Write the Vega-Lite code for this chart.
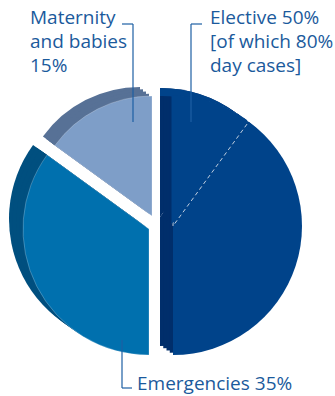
{
  "$schema": "https://vega.github.io/schema/vega-lite/v6.json",
  "width": 335,
  "height": 396,
  "padding": 0,
  "autosize": {"type": "none"},
  "background": "#ffffff",
  "config": {"view": {"stroke": null}},
  "datasets": {
    "slices": [
      {"category": "Elective (other)", "group": "Elective", "value": 10, "order": 1},
      {"category": "Elective day cases", "group": "Elective", "value": 40, "order": 2},
      {"category": "Emergencies", "group": "Emergencies", "value": 35, "order": 3},
      {"category": "Maternity and babies", "group": "Maternity", "value": 15, "order": 4}
    ],
    "labels": [
      {"group": "Maternity", "label": "Maternity\nand babies\n15%"},
      {"group": "Elective", "label": "Elective 50%\n[of which 80%\nday cases]"},
      {"group": "Emergencies", "label": "Emergencies 35%"}
    ]
  },
  "layer": [
    {
      "data": {"name": "slices"},
      "transform": [
        {"stack": "value", "groupby": [], "sort": [{"field": "order"}], "as": ["v0", "v1"]}
      ],
      "encoding": {
        "theta": {"field": "v0", "type": "quantitative", "stack": null, "scale": {"domain": [0, 100]}},
        "theta2": {"field": "v1"}
      },
      "layer": [
        {"transform": [{"filter": "datum.group == 'Elective'"}],
         "mark": {"type": "arc", "radius": 129, "xOffset": -7.5, "yOffset": 19, "fill": "#002e6b"}},
        {"transform": [{"filter": "datum.group == 'Elective'"}],
         "mark": {"type": "arc", "radius": 129, "xOffset": -4.25, "yOffset": 21.25, "fill": "#002e6b"}},
        {"transform": [{"filter": "datum.group == 'Elective'"}],
         "mark": {"type": "arc", "radius": 129, "xOffset": -1, "yOffset": 23.5, "fill": "#002e6b"}},
        {"transform": [{"filter": "datum.group == 'Elective'"}],
         "mark": {"type": "arc", "radius": 129, "xOffset": 2.25, "yOffset": 25.75, "fill": "#002e6b"}},
        {"transform": [{"filter": "datum.category == 'Elective (other)'"}],
         "mark": {"type": "arc", "radius": 129, "radius2": 121, "xOffset": -7.5, "yOffset": 19, "fill": "#00438a"}},
        {"transform": [{"filter": "datum.group == 'Emergencies'"}],
         "mark": {"type": "arc", "radius": 126, "xOffset": -32.5, "yOffset": 21, "fill": "#004f7f"}},
        {"transform": [{"filter": "datum.group == 'Emergencies'"}],
         "mark": {"type": "arc", "radius": 126, "xOffset": -29, "yOffset": 23.5, "fill": "#004f7f"}},
        {"transform": [{"filter": "datum.group == 'Emergencies'"}],
         "mark": {"type": "arc", "radius": 126, "xOffset": -25.5, "yOffset": 26, "fill": "#004f7f"}},
        {"transform": [{"filter": "datum.group == 'Emergencies'"}],
         "mark": {"type": "arc", "radius": 126, "xOffset": -22, "yOffset": 28.5, "fill": "#004f7f"}},
        {"transform": [{"filter": "datum.group == 'Maternity'"}],
         "mark": {"type": "arc", "radius": 120, "xOffset": -27.5, "yOffset": 9, "fill": "#577196"}},
        {"transform": [{"filter": "datum.group == 'Maternity'"}],
         "mark": {"type": "arc", "radius": 120, "xOffset": -24.5, "yOffset": 11.25, "fill": "#577196"}},
        {"transform": [{"filter": "datum.group == 'Maternity'"}],
         "mark": {"type": "arc", "radius": 120, "xOffset": -21.5, "yOffset": 13.5, "fill": "#577196"}},
        {"transform": [{"filter": "datum.group == 'Maternity'"}],
         "mark": {"type": "arc", "radius": 120, "xOffset": -18.5, "yOffset": 15.75, "fill": "#577196"}},
        {"transform": [{"filter": "datum.group == 'Elective'"}],
         "mark": {"type": "arc", "radius": 129, "xOffset": 5.5, "yOffset": 28, "fill": "#00438a"}},
        {"transform": [{"filter": "datum.group == 'Emergencies'"}],
         "mark": {"type": "arc", "radius": 126, "xOffset": -18.5, "yOffset": 31, "fill": "#0070ae", "stroke": "#ffffff", "strokeWidth": 0.6, "strokeOpacity": 0.4}},
        {"transform": [{"filter": "datum.group == 'Maternity'"}],
         "mark": {"type": "arc", "radius": 120, "xOffset": -15.5, "yOffset": 18, "fill": "#7e9ec8", "stroke": "#ffffff", "strokeWidth": 0.6, "strokeOpacity": 0.4}},
        {"transform": [{"filter": "datum.category == 'Elective (other)'"}],
         "mark": {"type": "arc", "radius": 129, "xOffset": 5.5, "yOffset": 28, "fill": null, "stroke": "#ffffff", "strokeWidth": 1, "strokeOpacity": 0.75, "strokeDash": [4, 3]}},
        {"transform": [{"filter": "datum.category == 'Elective (other)'"}],
         "mark": {"type": "arc", "radius": 129, "xOffset": 4, "yOffset": 26.5, "fill": "#00438a"}}
      ]
    },
    {"data": {"values": [{}]}, "mark": {"type": "rule", "stroke": "#1d5fa3", "strokeWidth": 1.2},
     "encoding": {"x": {"value": 122}, "y": {"value": 24}, "x2": {"value": 133}, "y2": {"value": 24}}},
    {"data": {"values": [{}]}, "mark": {"type": "rule", "stroke": "#1d5fa3", "strokeWidth": 1.2},
     "encoding": {"x": {"value": 133}, "y": {"value": 24}, "x2": {"value": 133}, "y2": {"value": 122}}},
    {"data": {"values": [{}]}, "mark": {"type": "rule", "stroke": "#1d5fa3", "strokeWidth": 1.2},
     "encoding": {"x": {"value": 191}, "y": {"value": 24}, "x2": {"value": 202}, "y2": {"value": 24}}},
    {"data": {"values": [{}]}, "mark": {"type": "rule", "stroke": "#1d5fa3", "strokeWidth": 1.2},
     "encoding": {"x": {"value": 191}, "y": {"value": 24}, "x2": {"value": 191}, "y2": {"value": 122}}},
    {"data": {"values": [{}]}, "mark": {"type": "rule", "stroke": "#1d5fa3", "strokeWidth": 1.2},
     "encoding": {"x": {"value": 122}, "y": {"value": 340}, "x2": {"value": 122}, "y2": {"value": 388}}},
    {"data": {"values": [{}]}, "mark": {"type": "rule", "stroke": "#1d5fa3", "strokeWidth": 1.2},
     "encoding": {"x": {"value": 122}, "y": {"value": 388}, "x2": {"value": 132}, "y2": {"value": 388}}},
    {"data": {"name": "labels"}, "transform": [{"filter": "datum.group == 'Maternity'"}],
     "mark": {"type": "text", "x": 30, "y": 24, "align": "left", "baseline": "alphabetic", "font": "Open Sans", "fontSize": 19, "lineHeight": 24, "lineBreak": "\n", "fill": "#1b5a9c"},
     "encoding": {"text": {"field": "label", "type": "nominal"}}},
    {"data": {"name": "labels"}, "transform": [{"filter": "datum.group == 'Elective'"}],
     "mark": {"type": "text", "x": 210, "y": 24, "align": "left", "baseline": "alphabetic", "font": "Open Sans", "fontSize": 19, "lineHeight": 24, "lineBreak": "\n", "fill": "#1b5a9c"},
     "encoding": {"text": {"field": "label", "type": "nominal"}}},
    {"data": {"name": "labels"}, "transform": [{"filter": "datum.group == 'Emergencies'"}],
     "mark": {"type": "text", "x": 137, "y": 390, "align": "left", "baseline": "alphabetic", "font": "Open Sans", "fontSize": 19, "lineHeight": 24, "lineBreak": "\n", "fill": "#1b5a9c"},
     "encoding": {"text": {"field": "label", "type": "nominal"}}}
  ]
}
